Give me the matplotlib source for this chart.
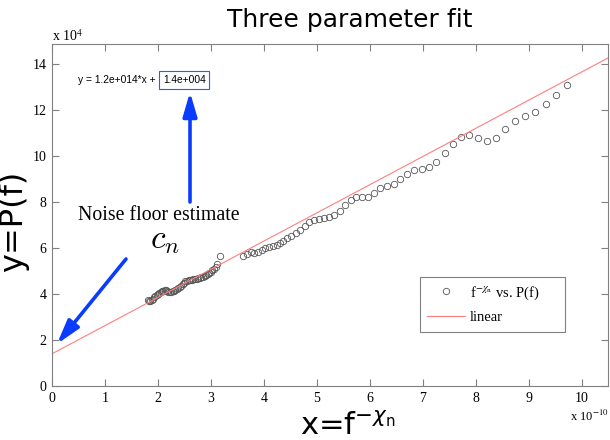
import matplotlib
matplotlib.use('Agg')
import matplotlib.pyplot as plt
import numpy as np

# ---- data (x in units of 1e-10, y in units of 1e4) ----
x_cluster = [1.82, 1.84, 1.86, 1.88, 1.90, 1.93, 1.95, 1.98, 2.00, 2.03,
             2.05, 2.08, 2.10, 2.13, 2.15, 2.18, 2.20, 2.23, 2.25, 2.28,
             2.30, 2.33, 2.36, 2.38, 2.41, 2.44, 2.47, 2.50, 2.52, 2.55,
             2.58, 2.61, 2.64, 2.67, 2.70, 2.73, 2.76, 2.79, 2.82, 2.85,
             2.88, 2.91, 2.94, 2.97, 3.00, 3.03, 3.06, 3.09, 3.12, 3.17]
y_cluster = [3.72, 3.70, 3.68, 3.74, 3.80, 3.86, 3.92, 3.97, 4.00, 4.04,
             4.08, 4.12, 4.15, 4.17, 4.16, 4.12, 4.09, 4.07, 4.08, 4.11,
             4.14, 4.17, 4.20, 4.24, 4.29, 4.36, 4.44, 4.50, 4.55, 4.58,
             4.60, 4.61, 4.62, 4.64, 4.65, 4.66, 4.68, 4.70, 4.73, 4.76,
             4.79, 4.83, 4.87, 4.92, 4.97, 5.03, 5.10, 5.19, 5.30, 5.65]
x_upper = [3.61, 3.68, 3.75, 3.82, 3.89, 3.96, 4.03, 4.10, 4.17, 4.24,
           4.30, 4.36, 4.44, 4.52, 4.60, 4.69, 4.78, 4.86, 4.94, 5.04,
           5.13, 5.23, 5.33, 5.43, 5.53, 5.65, 5.75, 5.86, 5.97, 6.08,
           6.20, 6.33, 6.45, 6.58, 6.71, 6.84, 6.98, 7.12, 7.26, 7.42,
           7.57, 7.72, 7.88, 8.04, 8.21, 8.38, 8.55, 8.74, 8.93, 9.12,
           9.32, 9.52, 9.73]
y_upper = [5.65, 5.74, 5.81, 5.77, 5.81, 5.91, 6.02, 6.06, 6.09, 6.13,
           6.20, 6.32, 6.42, 6.53, 6.64, 6.78, 6.97, 7.13, 7.22, 7.27,
           7.30, 7.36, 7.45, 7.61, 7.85, 8.09, 8.23, 8.23, 8.23, 8.41,
           8.62, 8.70, 8.77, 8.99, 9.22, 9.39, 9.43, 9.51, 9.74, 10.12,
           10.54, 10.84, 10.91, 10.77, 10.67, 10.80, 11.16, 11.52, 11.74, 11.93,
           12.26, 12.65, 13.09]
fit_slope = 1.225      # 1.2e+014 in scaled units
fit_intercept = 1.4    # 1.4e+004 in scaled units
x_ticks = list(range(0, 11))
y_ticks = list(range(0, 15, 2))
x_lim = (0, 10.5)
y_lim = (0, 14.87)

W, H = 610, 440
fig = plt.figure(figsize=(W / 100, H / 100), dpi=100)
ax = fig.add_axes([52 / W, 54 / H, 556 / W, 342 / H])

x_all = np.array(x_cluster + x_upper)
y_all = np.array(y_cluster + y_upper)
pts, = ax.plot(x_all, y_all, ls='none', marker='o', mfc='none', mec='#555555',
               ms=4.6, mew=0.6, label=r'f$^{-\chi_{\rm n}}$ vs. P(f)      ')
xl = np.array(x_lim)
lin, = ax.plot(xl, fit_slope * xl + fit_intercept, color='#ff7f7f', lw=0.8,
               label='linear')

ax.set_xlim(*x_lim)
ax.set_ylim(*y_lim)
ax.set_xticks(x_ticks)
ax.set_yticks(y_ticks)
ax.tick_params(direction='in', length=5, width=0.8, color='#808080',
               top=True, right=True, labelsize=10, pad=4)
for lab in ax.get_xticklabels() + ax.get_yticklabels():
    lab.set_fontfamily('Liberation Serif')
for s in ax.spines.values():
    s.set_color('#808080')
    s.set_linewidth(0.8)

leg = ax.legend(handles=[pts, lin], loc='upper left',
                bbox_to_anchor=((420 - 52) / 556, (386 - 277) / 342),
                borderaxespad=0, fancybox=False, edgecolor='#808080',
                framealpha=1, handlelength=2.6, handletextpad=0.3,
                borderpad=0.5, labelspacing=0.65,
                prop={'family': 'Liberation Serif', 'size': 10.5})
leg.get_frame().set_linewidth(0.8)
for t in leg.get_texts():
    t.set_math_fontfamily('stix')

# title and labels
fig.text(350 / W, 1 - 27 / H, 'Three parameter fit', ha='center', va='baseline',
         fontsize=18, family='DejaVu Sans')
fig.text(14 / W, 1 - 221 / H, 'y=P(f)', rotation=90, ha='center', va='center',
         fontsize=23, family='DejaVu Sans')
fig.text(348 / W, 1 - 426 / H, r'x=f$^{-\chi_{\rm n}}$', ha='center', va='center',
         fontsize=22, family='DejaVu Sans', math_fontfamily='dejavusans')
fig.text(52 / W, 1 - 41 / H, r'x 10$^{4}$', ha='left', va='baseline',
         fontsize=10, family='Liberation Serif', math_fontfamily='stix')
fig.text(570 / W, 1 - 421 / H, r'x 10$^{-10}$', ha='left', va='baseline',
         fontsize=9, family='Liberation Serif', math_fontfamily='stix')

# equation annotation
fig.text(78 / W, 1 - 80 / H, 'y = 1.2e+014*x + ', ha='left', va='center',
         fontsize=7.4, family='Liberation Sans')
fig.text(163 / W, 1 - 80 / H, '1.4e+004', ha='left', va='center',
         fontsize=7.4, family='Liberation Sans',
         bbox=dict(boxstyle='square,pad=0.35', fc='white', ec='#3355ff', lw=0.8))

# noise floor annotation
fig.text(159 / W, 1 - 215 / H, 'Noise floor estimate', ha='center', va='center',
         fontsize=14.3, family='Liberation Serif')
fig.text(165 / W, 1 - 240 / H, r'$c_n$', ha='center', va='center',
         fontsize=24, math_fontfamily='cm')

blue = '#0a3cff'
ax.annotate('', xy=(190, H - 92), xytext=(190, H - 202), xycoords='figure pixels',
            textcoords='figure pixels',
            arrowprops=dict(arrowstyle='-|>,head_length=1.2,head_width=0.35',
                            color=blue, lw=2.6, shrinkA=0, shrinkB=0,
                            mutation_scale=12))
ax.annotate('', xy=(57, H - 344), xytext=(126, H - 259), xycoords='figure pixels',
            textcoords='figure pixels',
            arrowprops=dict(arrowstyle='-|>,head_length=1.2,head_width=0.35',
                            color=blue, lw=2.6, shrinkA=0, shrinkB=0,
                            mutation_scale=12))

fig.savefig('out.png', dpi=100)
